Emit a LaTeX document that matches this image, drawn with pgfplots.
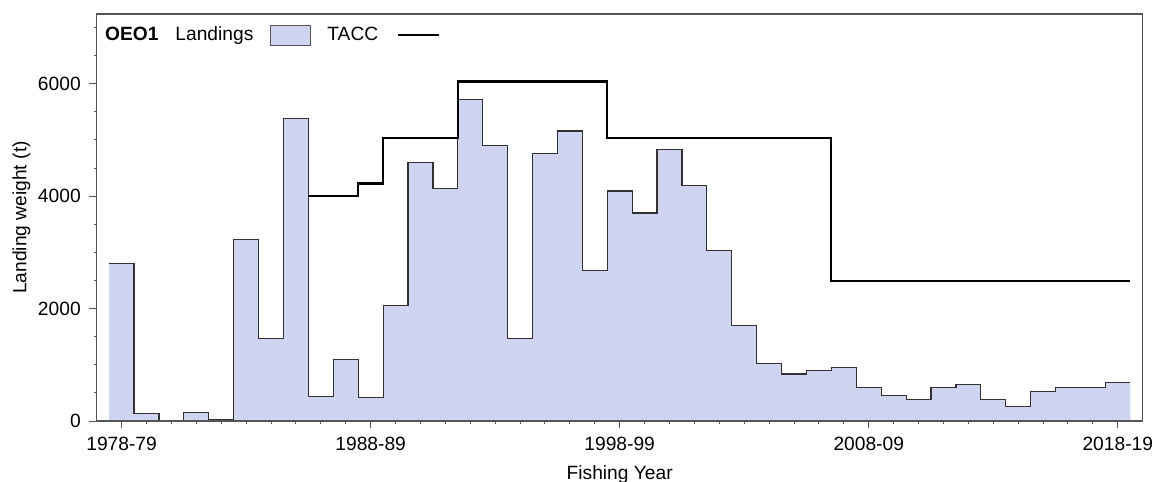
\documentclass[border=0pt]{standalone}
\usepackage{pgfplots}
\pgfplotsset{compat=1.18}
\usepackage{fontspec}
\setmainfont{Liberation Sans}
\definecolor{landfill}{RGB}{207,213,240}
\definecolor{framecol}{RGB}{85,85,85}
\definecolor{stepcol}{RGB}{50,50,50}

\pgfplotstableread{
x y
1977.5 2800
1978.5 140
1979.5 10
1980.5 150
1981.5 30
1982.5 3230
1983.5 1470
1984.5 5375
1985.5 440
1986.5 1090
1987.5 420
1988.5 2060
1989.5 4595
1990.5 4130
1991.5 5725
1992.5 4895
1993.5 1470
1994.5 4765
1995.5 5160
1996.5 2680
1997.5 4090
1998.5 3700
1999.5 4835
2000.5 4185
2001.5 3035
2002.5 1700
2003.5 1020
2004.5 835
2005.5 900
2006.5 950
2007.5 590
2008.5 450
2009.5 380
2010.5 590
2011.5 645
2012.5 385
2013.5 260
2014.5 520
2015.5 600
2016.5 600
2017.5 685
2018.5 685
}\landings

\pgfplotstableread{
x y
1985.5 4000
1987.5 4225
1988.5 5030
1991.5 6040
1997.5 5035
2006.5 2490
2018.5 2490
}\tacc

\begin{document}
\fontsize{9.6pt}{11.5pt}\selectfont
\begin{tikzpicture}
\begin{axis}[
  scale only axis,
  width=523pt, height=203.5pt,
  xmin=1977, xmax=2019, ymin=0, ymax=7240,
  axis on top,
  xtick={1978,1988,1998,2008,2018},
  xticklabels={1978-79,1988-89,1998-99,2008-09,2018-19},
  minor xtick={1979,1980,...,2017},
  ytick={0,2000,4000,6000},
  minor ytick={500,1000,...,7000},
  tick align=outside,
  xtick pos=bottom, ytick pos=left,
  major tick length=3.7pt, minor tick length=1.3pt,
  every tick/.style={framecol, line width=0.5pt},
  axis line style={framecol, line width=0.6pt},
  /pgf/number format/assume math mode=true,
  /pgf/number format/1000 sep={},
  scaled y ticks=false,
  yticklabel style={font=\fontsize{9.6pt}{11.5pt}\selectfont, xshift=-0.9pt},
  xticklabel style={font=\fontsize{9.6pt}{11.5pt}\selectfont, yshift=-1.1pt},
  xlabel={Fishing Year},
  ylabel={Landing weight (t)},
  xlabel style={at={(axis description cs:0.5,-0.132)}, anchor=center, font=\fontsize{9.6pt}{11.5pt}\selectfont},
  ylabel style={at={(axis description cs:-0.0719,0.5)}, anchor=center, font=\fontsize{9.6pt}{11.5pt}\selectfont},
  legend columns=-1,
  legend plot pos=right,
  legend style={draw=none, fill=none, inner sep=0pt,
    at={(axis description cs:0,1)}, anchor=north west,
    xshift=1.0pt, yshift=-3.3pt,
    column sep=1.25pt,
    font=\fontsize{9.6pt}{11.5pt}\selectfont,
    nodes={inner sep=3pt}},
]
\addplot[const plot mark left, fill=landfill, draw=none, forget plot] table[x=x,y=y]{\landings} \closedcycle;
\addplot[const plot mark left, draw=stepcol, line width=0.6pt, forget plot] table[x=x,y=y]{\landings};
\addplot[const plot mark left, draw=black, line width=1.1pt, forget plot] table[x=x,y=y]{\tacc};

\addlegendimage{legend image code/.code={}}
\addlegendentry{\textbf{OEO1}}
\addlegendimage{legend image code/.code={
  \path[draw=none, fill=none] (0pt,0pt) -- (28.5pt,0pt);
  \draw[fill=landfill, draw=framecol, line width=0.5pt] (4.25pt,-5pt) rectangle (24.25pt,5pt);}}
\addlegendentry{Landings}
\addlegendimage{legend image code/.code={
  \path[draw=none, fill=none] (0pt,0pt) -- (26.25pt,0pt);
  \draw[black, line width=1.1pt] (5.75pt,0pt) -- (26.25pt,0pt);}}
\addlegendentry{TACC}
\end{axis}
\pgfresetboundingbox
\path (current axis.south west) ++(-48.35pt,-30pt) coordinate (bbA);
\path (current axis.north east) ++(5.15pt,7pt) coordinate (bbB);
\useasboundingbox (bbA) rectangle (bbB);
\end{tikzpicture}
\end{document}
